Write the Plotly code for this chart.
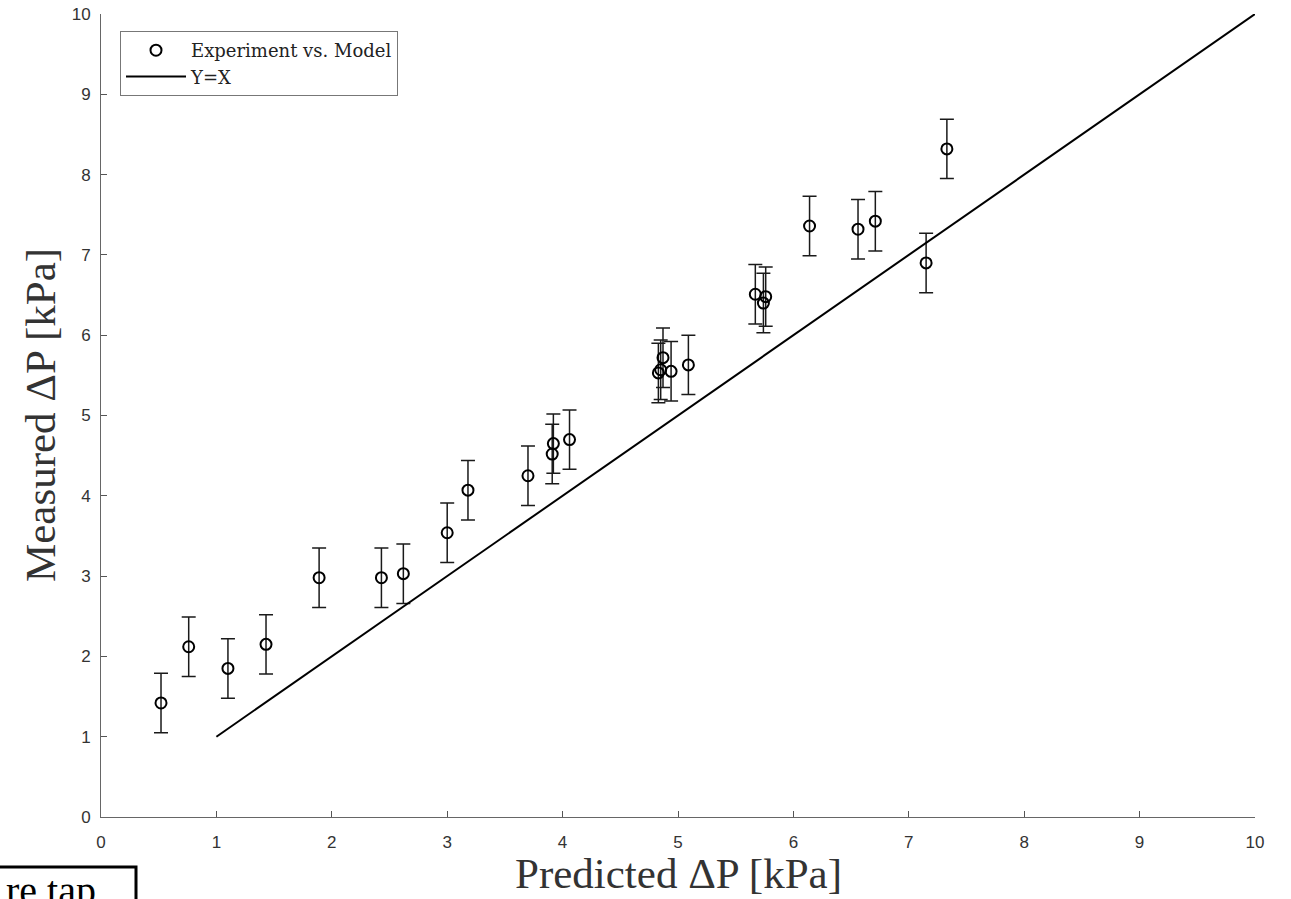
import plotly.graph_objects as go

# Data
predicted = [0.52, 0.76, 1.10, 1.43, 1.89, 2.43, 2.62, 3.00, 3.18, 3.70, 3.91, 3.92, 4.06,
             4.83, 4.85, 4.87, 4.94, 5.09, 5.67, 5.74, 5.76, 6.14, 6.56, 6.71, 7.15, 7.33]
measured = [1.42, 2.12, 1.85, 2.15, 2.98, 2.98, 3.03, 3.54, 4.07, 4.25, 4.52, 4.65, 4.70,
            5.53, 5.57, 5.72, 5.55, 5.63, 6.51, 6.40, 6.48, 7.36, 7.32, 7.42, 6.90, 8.32]
errors = [0.37, 0.37, 0.37, 0.37, 0.37, 0.37, 0.37, 0.37, 0.37, 0.37, 0.37, 0.37, 0.37,
          0.37, 0.37, 0.37, 0.37, 0.37, 0.37, 0.37, 0.37, 0.37, 0.37, 0.37, 0.37, 0.37]
line_x = [1, 10]
line_y = [1, 10]
ticks = [0, 1, 2, 3, 4, 5, 6, 7, 8, 9, 10]
x_title = "Predicted ΔP [kPa]"
y_title = "Measured ΔP [kPa]"

W, H = 1291, 899
L, R, T, B = 101, 36, 14, 82

fig = go.Figure()
fig.add_trace(go.Scatter(
    x=predicted, y=measured, mode="markers", name="Experiment vs. Model",
    marker=dict(symbol="circle-open", size=11, color="black", line=dict(width=2, color="black")),
    error_y=dict(type="data", array=errors, visible=True, color="#1a1a1a", thickness=1.5, width=7),
))
fig.add_trace(go.Scatter(
    x=line_x, y=line_y, mode="lines", name="Y=X",
    line=dict(color="black", width=2),
))

axis_common = dict(
    range=[0, 10], tickvals=ticks, ticks="inside", ticklen=6, tickcolor="#555555",
    showline=True, linecolor="#666666", linewidth=1, showgrid=False, zeroline=False,
    tickfont=dict(family="Liberation Sans Narrow, Liberation Sans, Arial", size=17, color="#333333"),
    mirror=False, automargin=False,
)
fig.update_xaxes(**axis_common, ticklabelstandoff=10)
fig.update_yaxes(**axis_common, ticklabelstandoff=6)

pw = W - L - R
ph = H - T - B
def px(xp):
    return (xp - L) / pw
def py(yp):
    return (H - B - yp) / ph

title_font = dict(family="Liberation Serif, serif", size=43, color="#333333")
fig.add_annotation(xref="paper", yref="paper", x=px(678), y=py(873), xanchor="center", yanchor="middle",
                   text=x_title, showarrow=False, font=title_font)
fig.add_annotation(xref="paper", yref="paper", x=px(40), y=py(415), xanchor="center", yanchor="middle",
                   text=y_title, textangle=-90, showarrow=False, font=title_font)

# Cropped framed box at bottom-left of the image
fig.add_shape(type="rect", xref="paper", yref="paper",
              x0=px(-6), x1=px(136), y0=py(930), y1=py(867),
              line=dict(color="black", width=3), fillcolor="white", layer="above")
fig.add_annotation(xref="paper", yref="paper", x=px(4), y=py(891), xanchor="left", yanchor="middle",
                   text="re tap", showarrow=False,
                   font=dict(family="Liberation Serif, serif", size=40, color="black"))

fig.update_layout(
    width=W, height=H,
    margin=dict(l=L, r=R, t=T, b=B, pad=0),
    paper_bgcolor="white", plot_bgcolor="white",
    showlegend=True,
    legend=dict(x=px(120), y=py(31), xanchor="left", yanchor="top",
                bgcolor="white", bordercolor="#777777", borderwidth=1,
                font=dict(family="DejaVu Serif, serif", size=18, color="#222222"),
                tracegroupgap=0, itemwidth=60),
)

fig.write_html("out.html")
